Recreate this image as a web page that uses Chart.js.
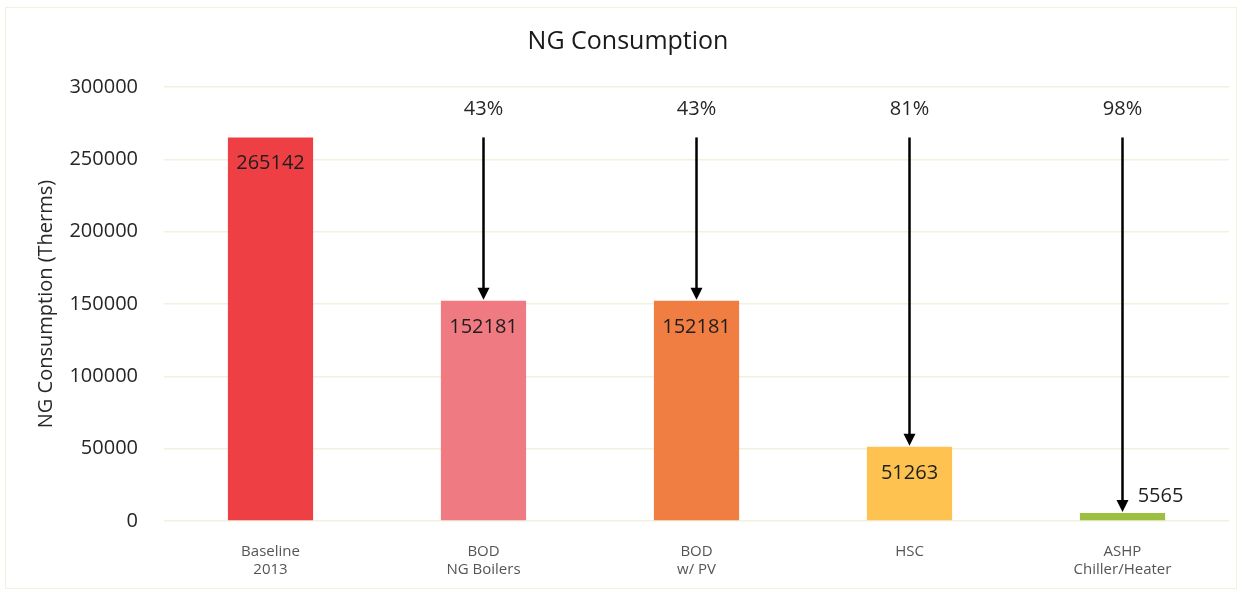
<!DOCTYPE html>
<html>
<head>
<meta charset="utf-8">
<script src="https://cdn.jsdelivr.net/npm/chart.js@4.4.1/dist/chart.umd.min.js"></script>
<style>
  html, body { margin: 0; padding: 0; background: #ffffff; }
  #wrap { position: relative; width: 1244px; height: 593px; }
  #frame { position: absolute; left: 5px; top: 7px; width: 1232px; height: 582px; border: 1.5px solid #f1f1df; box-sizing: border-box; pointer-events: none; }
  canvas { position: absolute; left: 0; top: 0; }
</style>
</head>
<body>
<div id="wrap">
  <canvas id="c" width="1244" height="593"></canvas>
  <div id="frame"></div>
</div>
<script>
// ---- Data ----
const categories = [["Baseline", "2013"], ["BOD", "NG Boilers"], ["BOD", "w/ PV"], ["HSC"], ["ASHP", "Chiller/Heater"]];
const consumption = [265142, 152181, 152181, 51263, 5565];
const reductionLabels = ["", "43%", "43%", "81%", "98%"];
const barColors = ["#ee4044", "#f07a82", "#f07d42", "#fdc24f", "#9cbf3f"];
const yMin = 0, yMax = 300000, yStep = 50000;
const chartTitle = "NG Consumption";
const yAxisTitle = "NG Consumption (Therms)";

const FONT = "'Open Sans', 'Noto Sans', sans-serif";

const annotatePlugin = {
  id: 'annotate',
  afterDatasetsDraw(chart) {
    const ctx = chart.ctx;
    const meta = chart.getDatasetMeta(0);
    const yScale = chart.scales.y;
    const startY = yScale.getPixelForValue(consumption[0]);
    ctx.save();
    meta.data.forEach((bar, i) => {
      const h = bar.base - bar.y;
      // value labels
      ctx.font = "20px " + FONT;
      ctx.fillStyle = "#1e1e1e";
      ctx.textAlign = "center";
      ctx.textBaseline = "middle";
      if (h > 45) {
        ctx.fillText(String(consumption[i]), bar.x, bar.y + 26);
      } else {
        ctx.fillText(String(consumption[i]), bar.x + 38, bar.y - 17);
      }
      // arrows and percentages
      if (reductionLabels[i]) {
        const topY = startY;
        const tipY = bar.y - 1;
        ctx.strokeStyle = "#000";
        ctx.fillStyle = "#000";
        ctx.lineWidth = 2.5;
        ctx.beginPath();
        ctx.moveTo(bar.x, topY);
        ctx.lineTo(bar.x, tipY - 10);
        ctx.stroke();
        ctx.beginPath();
        ctx.moveTo(bar.x - 6, tipY - 12);
        ctx.lineTo(bar.x + 6, tipY - 12);
        ctx.lineTo(bar.x, tipY);
        ctx.closePath();
        ctx.fill();
        ctx.font = "20px " + FONT;
        ctx.fillStyle = "#262626";
        ctx.textAlign = "center";
        ctx.textBaseline = "middle";
        ctx.fillText(reductionLabels[i], bar.x, topY - 28);
      }
    });
    ctx.restore();
  }
};

new Chart(document.getElementById('c'), {
  type: 'bar',
  data: {
    labels: categories,
    datasets: [{
      data: consumption,
      backgroundColor: barColors,
      borderWidth: 0,
      barPercentage: 0.4,
      categoryPercentage: 1.0
    }]
  },
  options: {
    responsive: false,
    animation: false,
    layout: { padding: { top: 14, right: 15, bottom: 0, left: 27 } },
    plugins: {
      legend: { display: false },
      tooltip: { enabled: false },
      title: {
        display: true,
        text: chartTitle,
        color: "#1a1a1a",
        font: { family: FONT, size: 25, weight: 'normal' },
        padding: { top: 13, bottom: 30 }
      }
    },
    scales: {
      x: {
        grid: { display: false },
        border: { display: false },
        ticks: {
          color: "#555555",
          font: { family: FONT, size: 15 },
          padding: 14,
          autoSkip: false,
          maxRotation: 0
        },
        afterFit(axis) { axis.height = 72; }
      },
      y: {
        min: yMin,
        max: yMax,
        grid: { color: "#f1f1df", lineWidth: 1.5, drawTicks: false },
        border: { display: false },
        ticks: {
          stepSize: yStep,
          color: "#262626",
          font: { family: FONT, size: 20 },
          padding: 26,
          callback: (v) => String(v)
        },
        title: {
          display: true,
          text: yAxisTitle,
          color: "#262626",
          font: { family: FONT, size: 20 },
          padding: { top: 7, bottom: 0 }
        },
        afterFit(axis) { axis.width = 137; }
      }
    }
  },
  plugins: [annotatePlugin]
});
</script>
</body>
</html>
